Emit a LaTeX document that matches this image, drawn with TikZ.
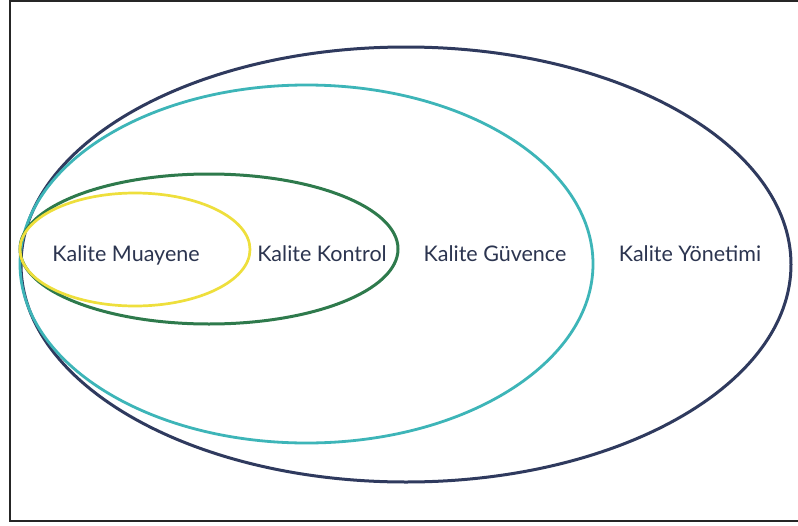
\documentclass[tikz,border=0pt]{standalone}
\usepackage{fontspec}
\setmainfont{Lato}
\usetikzlibrary{shapes.geometric}
\definecolor{navyring}{HTML}{2F3A5E}
\definecolor{tealring}{HTML}{3DB5B8}
\definecolor{greenring}{HTML}{2E7A4C}
\definecolor{yellowring}{HTML}{EEDF3C}
\definecolor{labelink}{HTML}{2C3550}
\begin{document}
\begin{tikzpicture}[x=1pt,y=-1pt,
  ring/.style={ellipse, inner sep=0pt, outer sep=0pt, line width=#1},
  ring/.default=3pt,
  label/.style={font=\fontsize{21.5}{24}\selectfont, text=labelink, inner sep=0pt, anchor=base}]
  \useasboundingbox (0,0) rectangle (798,525);
  \fill[white] (0,0) rectangle (798,525);
  % frame
  \draw[line width=2pt, black!85] (800,1) -- (9.5,1) -- (9.5,521) -- (800,521);
  % nested quality rings
  \node[ring, draw=navyring, minimum width=770pt, minimum height=435pt] (yonetim) at (406,264.5) {};
  \node[ring=2.8pt, draw=tealring, minimum width=573pt, minimum height=358pt] (guvence) at (306.5,264) {};
  \node[ring, draw=greenring, minimum width=378pt, minimum height=150pt] (kontrol) at (209,249) {};
  \node[ring=2.7pt, draw=yellowring, minimum width=230pt, minimum height=113pt] (muayene) at (135,249.5) {};
  % labels
  \node[label] (tMuayene) at (126,261) {Kalite Muayene};
  \node[label] (tKontrol) at (322,261) {Kalite Kontrol};
  \node[label] (tGuvence) at (495,261) {Kalite Güvence};
  \node[label] (tYonetim) at (690,261) {Kalite Yönetimi};
\end{tikzpicture}
\end{document}
